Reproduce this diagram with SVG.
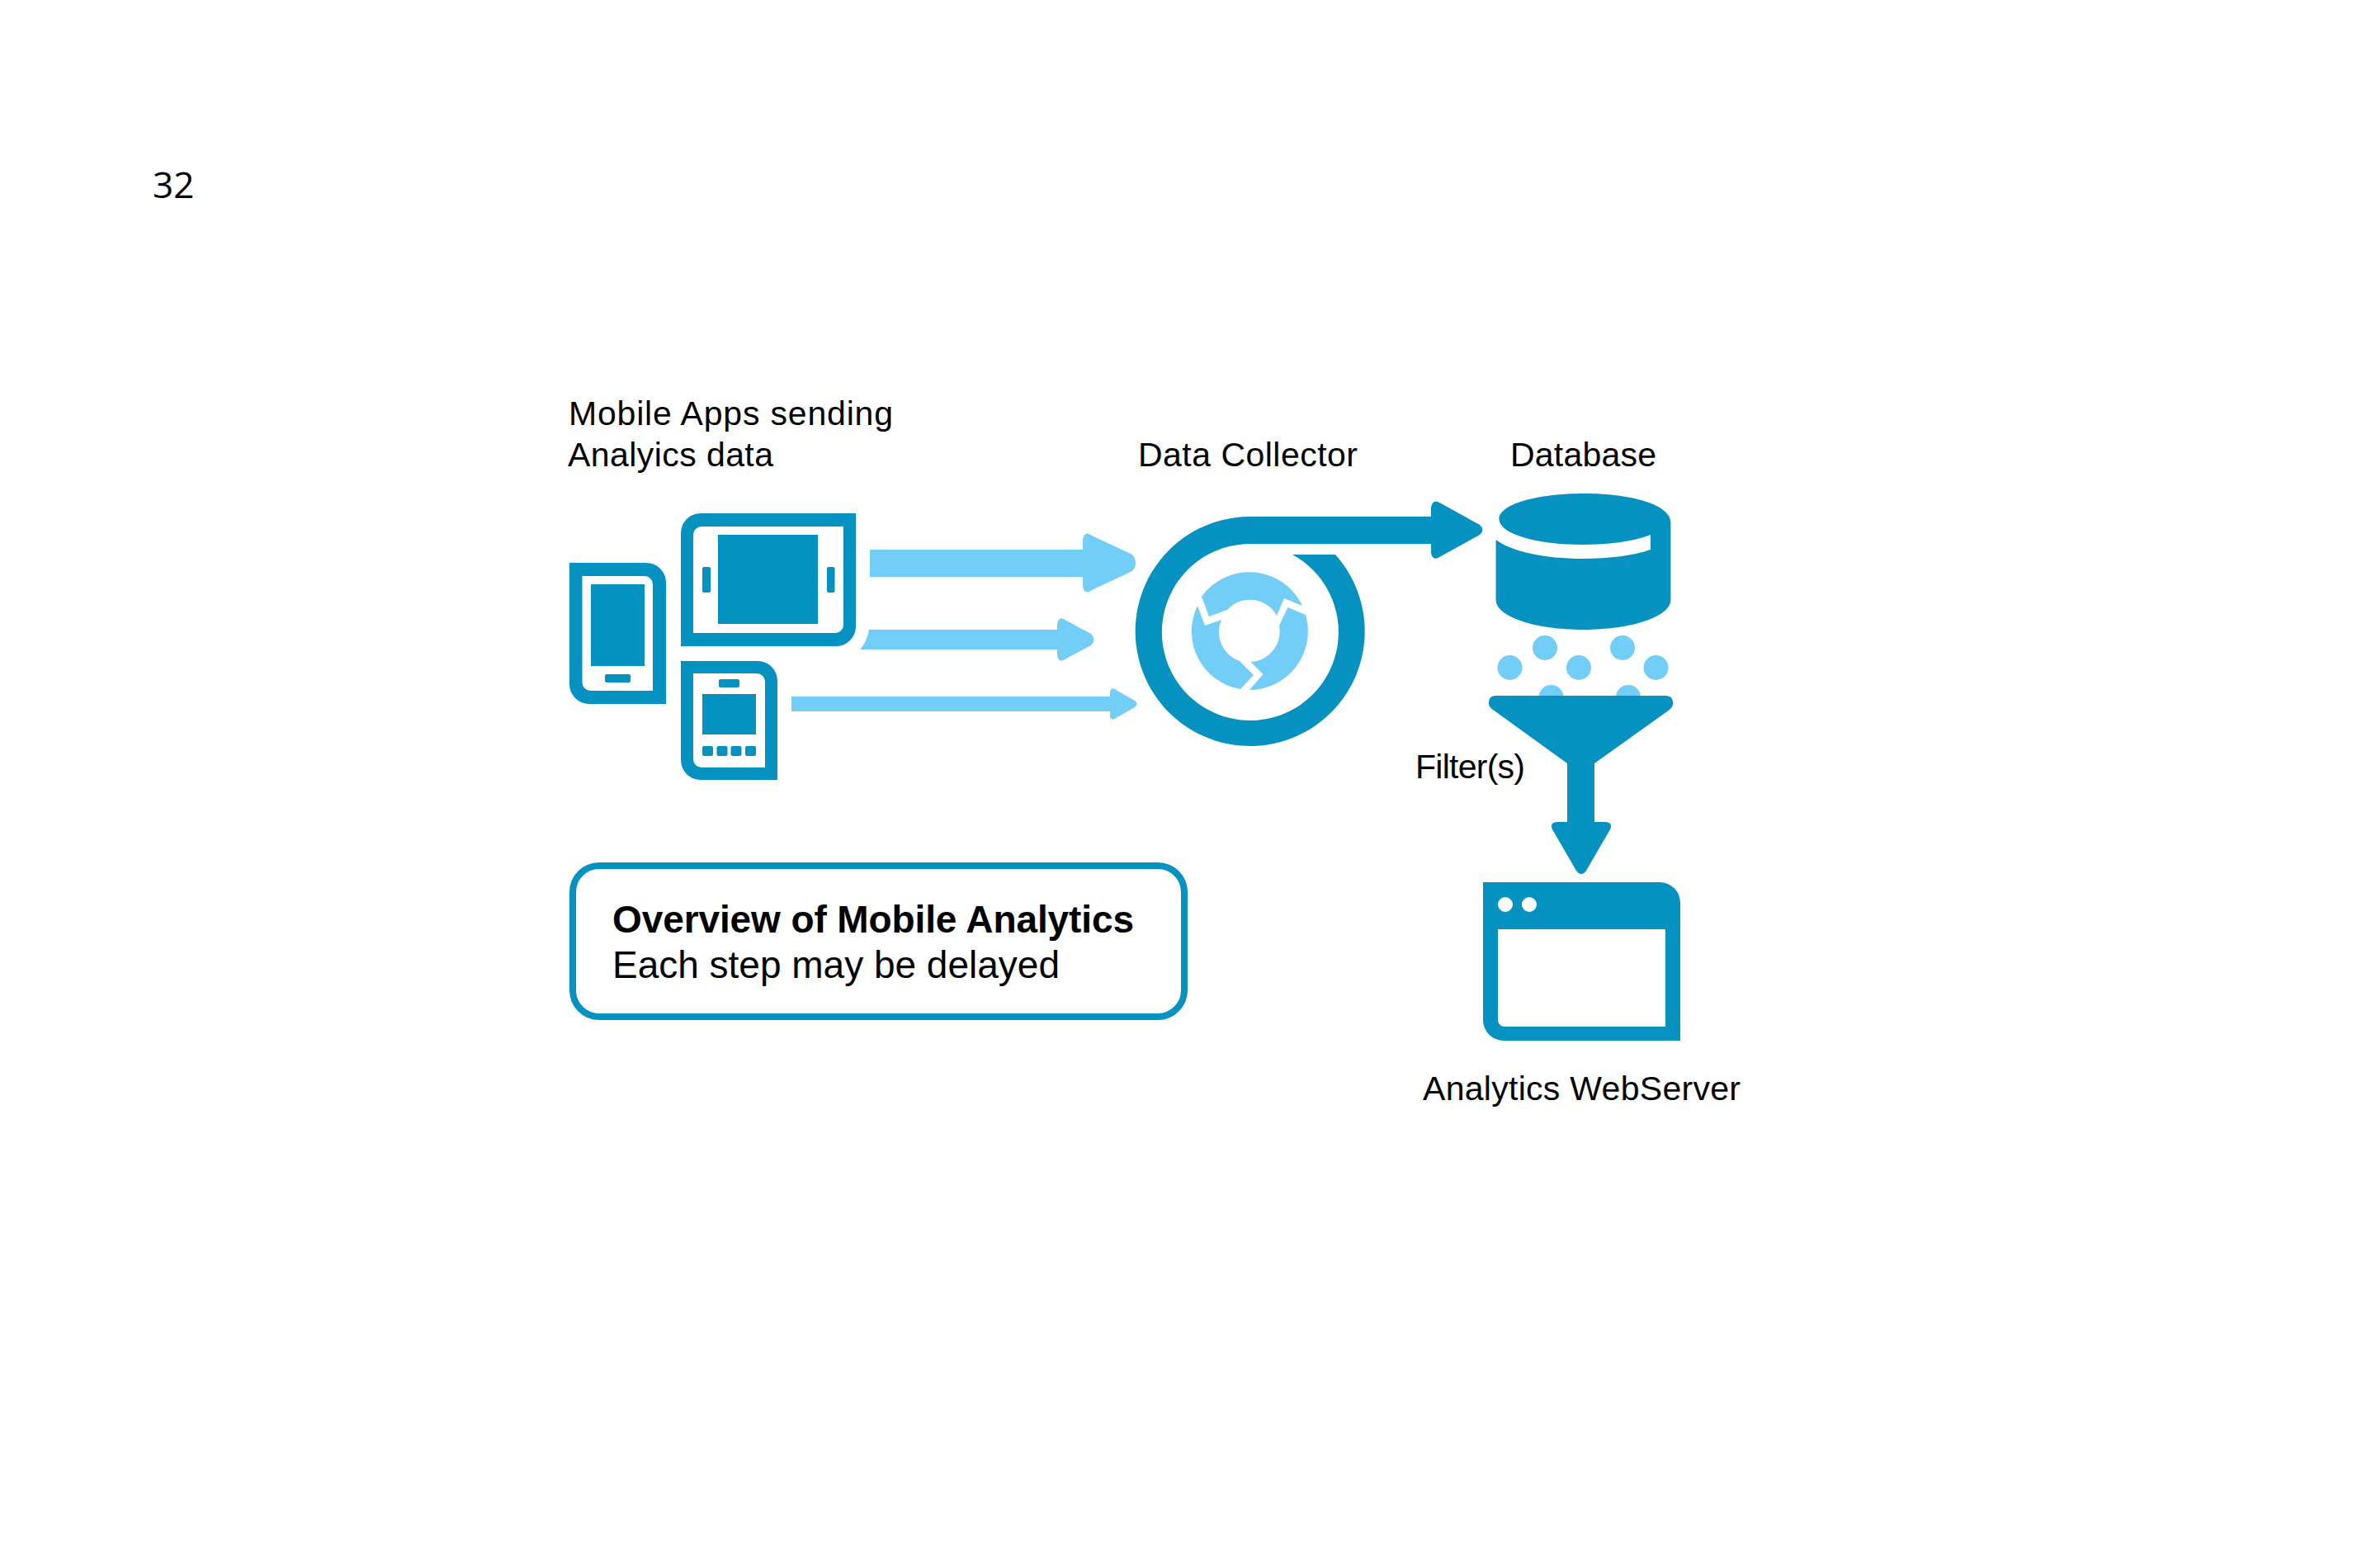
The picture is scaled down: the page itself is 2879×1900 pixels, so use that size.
<svg xmlns="http://www.w3.org/2000/svg" width="2879" height="1900" viewBox="0 0 2879 1900">
<style>
.b{fill:#0592c0}.l{fill:#73cef7}.w{fill:#fff}
text{font-family:"Liberation Sans",Arial,sans-serif;font-size:41px;fill:#000}
</style>
<rect width="2879" height="1900" fill="#fff"/>
<text id="page-number" x="185" y="240" style="font-family:'Open Sans','DejaVu Sans',sans-serif;font-size:44px">32</text>
<g id="connectors">
<path class="l" d="M1054 666H1312V654Q1314 642 1323 649L1372 672Q1380 682 1372 692L1323 715Q1314 722 1312 710V699H1054Z"/>
<path class="l" d="M1053 763H1281V756Q1283 745 1292 752L1322 768Q1329 775 1322 782L1292 798Q1283 805 1281 794V787H1042.5Q1051 776 1053 763Z"/>
<path class="l" d="M959 844H1345V838Q1347 831 1354 837L1375 849Q1380 853 1375 857L1354 869Q1347 875 1345 868V862H959Z"/>
<path class="b" d="M1618 672A139 139 0 1 1 1514 626H1734V615Q1736 603 1746 610L1793 636Q1800 642 1793 648L1746 674Q1736 681 1734 670V659H1514A107 107 0 1 0 1566 672Z"/>
</g>
<g id="mobile-apps">
<g id="phone-left">
<path class="b" d="M690 682H783A24 24 0 0 1 807 706V853H714A24 24 0 0 1 690 829Z"/>
<path class="w" d="M705.500 698H781A10 10 0 0 1 791 708V837H715.500A10 10 0 0 1 705.500 827Z"/>
<rect class="b" x="716" y="708" width="65" height="99"/>
<rect class="b" x="733" y="817" width="31" height="10" rx="2"/>
</g>
<g id="tablet">
<path class="b" d="M849 622H1037V759A24 24 0 0 1 1013 783H825V646A24 24 0 0 1 849 622Z"/>
<path class="w" d="M850 638H1022V757A10 10 0 0 1 1012 767H840V648A10 10 0 0 1 850 638Z"/>
<rect class="b" x="870" y="648" width="121" height="108"/>
<rect class="b" x="851" y="687" width="10" height="31" rx="2"/>
<rect class="b" x="1002" y="687" width="9.500" height="31" rx="2"/>
</g>
<g id="phone-bottom">
<path class="b" d="M825 801H918A24 24 0 0 1 942 825V945H849A24 24 0 0 1 825 921Z"/>
<path class="w" d="M840 816H917A10 10 0 0 1 927 826V930H850A10 10 0 0 1 840 920Z"/>
<rect class="b" x="871" y="823" width="25" height="10" rx="2"/>
<rect class="b" x="851" y="841" width="65" height="49"/>
<rect class="b" x="851" y="904" width="13" height="12" rx="2"/>
<rect class="b" x="868.500" y="904" width="13" height="12" rx="2"/>
<rect class="b" x="885.500" y="904" width="13" height="12" rx="2"/>
<rect class="b" x="903" y="904" width="13" height="12" rx="2"/>
</g>
<text x="689" y="515" textLength="393">Mobile Apps sending</text>
<text x="688" y="565" textLength="249">Analyics data</text>
</g>
<g id="data-collector">
<path class="l" d="M1456 723A71 71 0 0 1 1578 734L1556 725L1547 746A37 37 0 0 0 1487 739L1465 747Z"/>
<path class="l" d="M1560.500 736L1582 745A71 71 0 0 1 1514 836L1530.500 817L1515.500 802A37 37 0 0 0 1550 758Z"/>
<path class="l" d="M1451 734L1460 758L1480 751A37 37 0 0 0 1502 801L1519 818L1503 835A71 71 0 0 1 1451 734Z"/>
<text x="1379" y="565" textLength="266">Data Collector</text>
</g>
<g id="database">
<path class="b" d="M2024.400 633V727C2024.400 747 1977 763 1918.500 763S1812.600 747 1812.600 727V654C1830 668 1872 677 1918 677C1950 677 1980 673 2000 666V648C1980 656 1950 660 1918 660C1862 660 1816.500 647 1816.500 629S1862 598 1920 598S2024.400 612 2024.400 633Z"/>
<text x="1830" y="565" textLength="177">Database</text>
</g>
<g id="filter">
<circle class="l" cx="1872" cy="785" r="15"/>
<circle class="l" cx="1966" cy="785" r="15"/>
<circle class="l" cx="1829.500" cy="809" r="15"/>
<circle class="l" cx="1913" cy="809" r="15"/>
<circle class="l" cx="2006.500" cy="809" r="15"/>
<circle class="l" cx="1879.500" cy="845" r="15"/>
<circle class="l" cx="1973" cy="845" r="15"/>
<path class="b" d="M1812 843H2018Q2026 843 2027 850Q2028 856 2023 860L1932 925V996H1944Q1955 996 1951 1005L1922 1055Q1916 1063 1910 1055L1881 1005Q1877 996 1888 996H1899V925L1809 860Q1803 856 1804 850Q1805 843 1812 843Z"/>
<text x="1715" y="943" textLength="133">Filter(s)</text>
</g>
<g id="web-server">
<path class="b" d="M1797 1069H2011A25 25 0 0 1 2036 1094V1261H1822A25 25 0 0 1 1797 1236Z"/>
<path class="w" d="M1815 1126H2018V1244H1823A8 8 0 0 1 1815 1236Z"/>
<circle class="w" cx="1824" cy="1096" r="9"/>
<circle class="w" cx="1853" cy="1096" r="9"/>
<text x="1724" y="1333" textLength="385">Analytics WebServer</text>
</g>
<g id="overview-box">
<rect x="694" y="1049" width="741" height="183" rx="32" fill="#fff" stroke="#0592c0" stroke-width="8"/>
<text x="742" y="1130" textLength="632" style="font-size:46px;font-weight:bold">Overview of Mobile Analytics</text>
<text x="742" y="1185" textLength="542" style="font-size:46px">Each step may be delayed</text>
</g>
</svg>
